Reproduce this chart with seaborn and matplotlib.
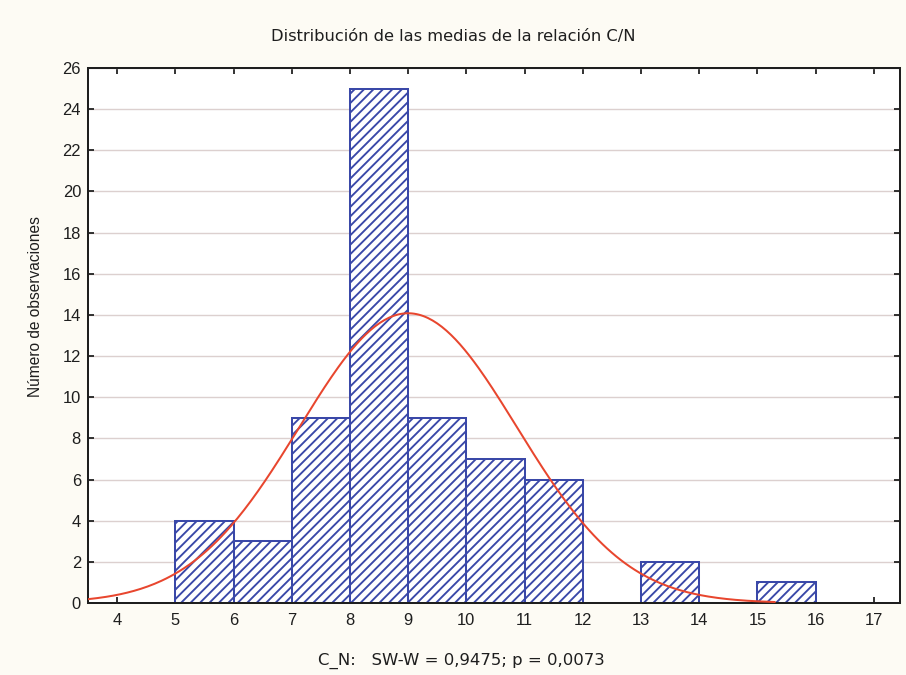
import numpy as np
import matplotlib
matplotlib.use("Agg")
import matplotlib.pyplot as plt
import seaborn as sns

# Histogram of the C/N means (bins of width 1)
bin_edges = [5, 6, 7, 8, 9, 10, 11, 12, 13, 14, 15, 16]
counts = [4, 3, 9, 25, 9, 7, 6, 0, 2, 0, 1]

# Fitted normal curve parameters
fit_mean = 9.0
fit_sd = 1.87
curve_range = (3.5, 15.3)

x_ticks = list(range(4, 18))
y_ticks = list(range(0, 27, 2))

title = "Distribución de las medias de la relación C/N"
x_label = "C_N:   SW-W = 0,9475; p = 0,0073"
y_label = "Número de observaciones"

DPI = 85
W, H = 906, 675


def pt(px):
    return px * 72.0 / DPI


sns.set_theme(style="white")
plt.rcParams["font.family"] = ["Liberation Sans", "DejaVu Sans"]
plt.rcParams["hatch.linewidth"] = 1.6

bar_blue = "#3a48a8"
curve_red = "#e8462e"
bg = "#fdfbf4"
ink = "#1e1e1e"

fig = plt.figure(figsize=(W / DPI, H / DPI), dpi=DPI, facecolor=bg)
ax = fig.add_axes([88 / W, 1 - 603 / H, (900 - 88) / W, (603 - 68) / H])
ax.set_facecolor("white")

centers = [(a + b) / 2 for a, b in zip(bin_edges[:-1], bin_edges[1:])]
sns.histplot(x=centers, weights=counts, bins=bin_edges, ax=ax,
             facecolor="white", edgecolor=bar_blue, linewidth=1.7,
             hatch="///", alpha=1, zorder=2)

# normal curve scaled to counts per unit bin
n_total = sum(counts)
bin_w = bin_edges[1] - bin_edges[0]
xs = np.linspace(curve_range[0], curve_range[1], 300)
ys = n_total * bin_w / (fit_sd * np.sqrt(2 * np.pi)) * np.exp(-0.5 * ((xs - fit_mean) / fit_sd) ** 2)
sns.lineplot(x=xs, y=ys, ax=ax, color=curve_red, linewidth=1.7, zorder=3)

ax.set_xlim(3.5, 17.45)
ax.set_ylim(0, 26)
ax.set_xticks(x_ticks)
ax.set_yticks(y_ticks)
ax.set_xticklabels([str(t) for t in x_ticks])
ax.set_yticklabels([str(t) for t in y_ticks])

ax.yaxis.grid(True, color="#dcd0cf", linewidth=1.2, zorder=0)
ax.xaxis.grid(False)
ax.set_axisbelow(True)

for s in ax.spines.values():
    s.set_visible(True)
    s.set_color(ink)
    s.set_linewidth(1.7)

ax.tick_params(axis="both", which="major", direction="in", length=5, width=1.5,
               color=ink, top=True, right=True, bottom=True, left=True,
               labelsize=pt(16.5), labelcolor=ink)
ax.tick_params(axis="x", pad=pt(10))
ax.tick_params(axis="y", pad=pt(7))

ax.set_xlabel("")
ax.set_ylabel("")
fig.text(36 / W, 1 - 307 / H, y_label, rotation=90, ha="center", va="center",
         fontsize=pt(15.5), color=ink)

fig.text(453 / W, 1 - 36 / H, title, ha="center", va="center",
         fontsize=pt(16.2), color=ink, family=["DejaVu Sans"])
fig.text(461 / W, 1 - 661 / H, x_label, ha="center", va="center",
         fontsize=pt(16.5), color=ink, family=["DejaVu Sans"])

fig.savefig("out.png", dpi=DPI, facecolor=bg)
